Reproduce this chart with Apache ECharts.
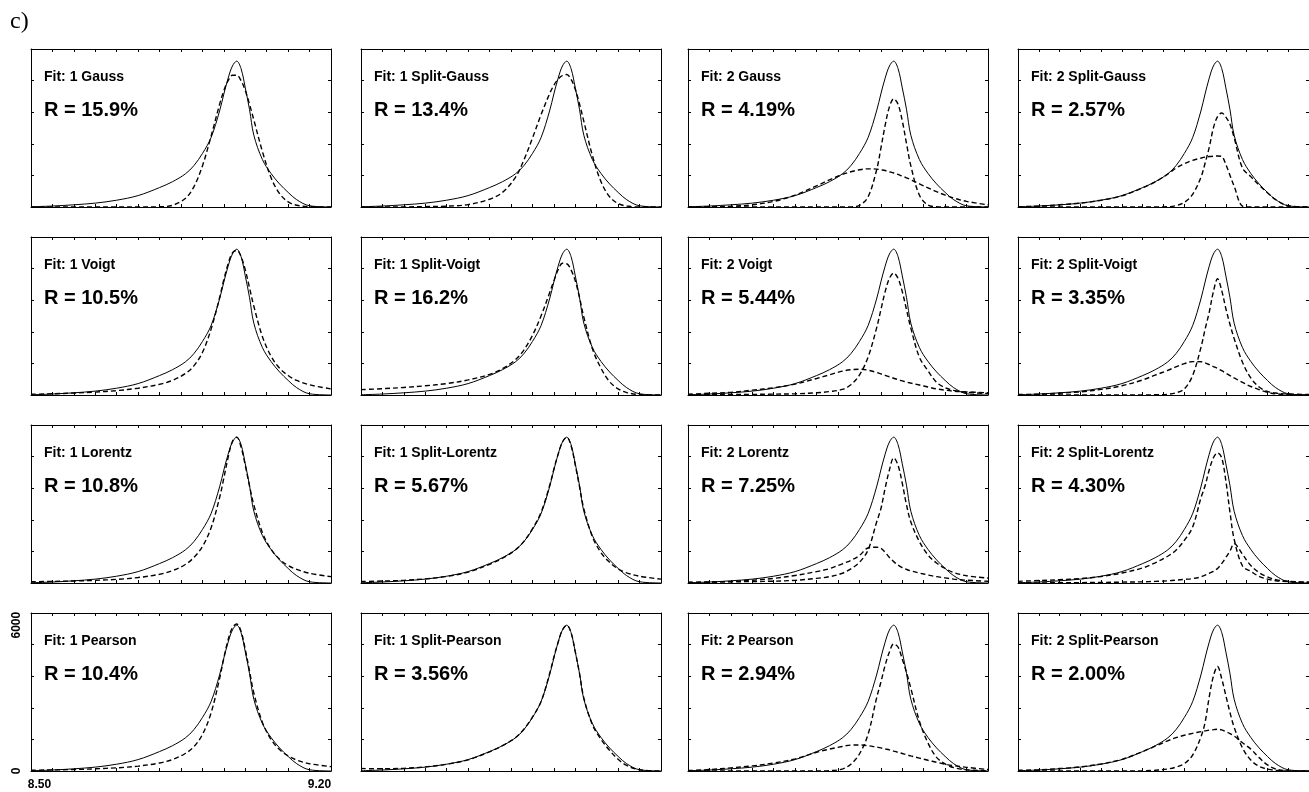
<!DOCTYPE html>
<html><head><meta charset="utf-8">
<script src="https://cdn.jsdelivr.net/npm/echarts@6/dist/echarts.min.js"></script>
<style>html,body{margin:0;padding:0;background:#fff}#c{width:1309px;height:792px}</style>
</head><body><div id="c"></div>
<script>
// ---------- data ----------
const xGrid = [8.50, 8.55, 8.60, 8.65, 8.70, 8.75, 8.80, 8.83, 8.86, 8.88, 8.90, 8.92, 8.94, 8.95, 8.96, 8.97, 8.98, 8.99, 9.00, 9.01, 9.02, 9.04, 9.06, 9.08, 9.10, 9.12, 9.15, 9.20];
const measured = [10, 40, 90, 160, 280, 470, 800, 1040, 1360, 1700, 2200, 2850, 3950, 4650, 5300, 5800, 6000, 5700, 4900, 4000, 2950, 1950, 1380, 950, 600, 300, 50, 0];

const gauss1 = [0, 0, 0, 0, 0, 0, 10, 70, 350, 830, 1690, 2900, 4220, 4790, 5200, 5420, 5420, 5200, 4790, 4220, 3580, 2280, 1210, 550, 210, 70, 10, 0];
const splitGauss1 = [0, 0, 5, 15, 35, 100, 320, 600, 1210, 1930, 2830, 3790, 4660, 5010, 5260, 5410, 5450, 5260, 4840, 4230, 3520, 2110, 1040, 420, 140, 40, 0, 0];
const gauss2a = [0, 0, 0, 0, 0, 0, 0, 0, 0, 5, 70, 410, 1520, 2410, 3360, 4120, 4450, 4230, 3540, 2600, 1690, 480, 80, 10, 0, 0, 0, 0];
const gauss2b = [0, 10, 30, 90, 230, 490, 870, 1120, 1340, 1450, 1530, 1570, 1560, 1530, 1500, 1450, 1400, 1340, 1270, 1200, 1120, 950, 790, 630, 490, 370, 230, 90];
const splitGauss2a = [0, 0, 0, 0, 0, 0, 0, 0, 10, 55, 190, 520, 1220, 1800, 2450, 3250, 3720, 3870, 3700, 3400, 2850, 1600, 1250, 900, 590, 300, 50, 0];
const splitGauss2b = [10, 40, 90, 160, 280, 460, 790, 1030, 1350, 1600, 1780, 1920, 2010, 2050, 2075, 2090, 2100, 2080, 1750, 1300, 850, 40, 0, 0, 0, 0, 0, 0];

const voigt1 = [30, 50, 80, 120, 180, 280, 440, 600, 880, 1200, 1750, 2700, 4000, 4750, 5400, 5850, 5950, 5700, 5150, 4400, 3650, 2400, 1600, 1100, 800, 600, 420, 250];
const splitVoigt1 = [220, 260, 310, 380, 470, 620, 850, 1080, 1450, 1850, 2450, 3250, 4200, 4700, 5150, 5420, 5400, 5150, 4700, 4000, 3200, 1900, 1100, 550, 250, 100, 20, 0];
const voigt2a = [12, 15, 20, 25, 35, 50, 90, 140, 230, 420, 820, 1550, 2750, 3500, 4250, 4800, 5020, 4800, 4250, 3500, 2750, 1550, 1000, 520, 300, 190, 110, 60];
const voigt2b = [30, 70, 110, 200, 300, 450, 680, 830, 980, 1040, 1060, 1020, 930, 870, 810, 750, 690, 630, 580, 530, 490, 410, 330, 250, 200, 160, 130, 90];
const splitVoigt2a = [0, 0, 0, 0, 0, 0, 0, 10, 30, 90, 250, 800, 1950, 2700, 3400, 4250, 4780, 4300, 3550, 2900, 2320, 1350, 700, 330, 150, 80, 40, 20];
const splitVoigt2b = [20, 35, 70, 130, 230, 380, 620, 820, 1010, 1160, 1290, 1375, 1370, 1320, 1250, 1170, 1090, 1000, 900, 800, 700, 520, 350, 220, 110, 50, 15, 0];

const lorentz1 = [50, 65, 85, 110, 150, 225, 360, 510, 760, 1050, 1500, 2260, 3510, 4320, 5170, 5820, 6000, 5600, 4840, 3980, 3210, 2070, 1390, 980, 720, 560, 400, 260];
const splitLorentz1 = [60, 80, 110, 170, 270, 450, 770, 1020, 1360, 1710, 2230, 2900, 4000, 4680, 5300, 5800, 6000, 5650, 4850, 3950, 3050, 1900, 1250, 850, 580, 420, 280, 160];
const lorentz2a = [30, 40, 50, 60, 75, 110, 190, 260, 400, 580, 850, 1350, 2500, 3050, 3900, 4650, 5150, 4850, 4100, 3200, 2510, 1700, 1150, 820, 600, 430, 300, 200];
const lorentz2b = [20, 35, 60, 115, 190, 310, 470, 590, 790, 930, 1130, 1440, 1470, 1430, 1260, 1050, 880, 740, 630, 560, 500, 410, 330, 260, 210, 160, 115, 70];
const splitLorentz2a = [68, 100, 135, 180, 270, 410, 620, 830, 1100, 1350, 1750, 2300, 3500, 4000, 4650, 5150, 5350, 5150, 4200, 2900, 1800, 700, 480, 270, 160, 95, 60, 30];
const splitLorentz2b = [0, 5, 10, 15, 25, 35, 50, 65, 90, 115, 150, 180, 250, 320, 400, 480, 600, 800, 1050, 1320, 1620, 1180, 720, 430, 250, 140, 70, 30];

const pearson1 = [30, 45, 60, 90, 130, 200, 330, 470, 720, 1000, 1500, 2380, 3800, 4650, 5400, 5900, 6050, 5750, 5000, 4100, 3200, 2000, 1300, 880, 620, 450, 300, 180];
const splitPearson1 = [100, 90, 110, 170, 280, 460, 790, 1040, 1370, 1720, 2220, 2850, 4000, 4680, 5300, 5800, 6000, 5700, 4900, 4000, 3000, 1900, 1300, 850, 480, 230, 50, 0];
const pearson2a = [0, 0, 0, 0, 0, 0, 0, 15, 80, 280, 700, 1500, 3000, 3650, 4350, 4900, 5230, 5100, 4600, 4050, 3400, 2050, 1150, 560, 290, 140, 50, 10];
const pearson2b = [20, 60, 130, 210, 330, 500, 770, 900, 1010, 1065, 1070, 1040, 980, 950, 910, 870, 820, 770, 720, 670, 620, 530, 440, 360, 280, 220, 150, 60];
const splitPearson2a = [0, 0, 0, 0, 0, 0, 10, 30, 80, 160, 300, 650, 1400, 2000, 3050, 3900, 4300, 3800, 3100, 2400, 1800, 950, 450, 190, 80, 30, 0, 0];
const splitPearson2b = [30, 50, 100, 170, 290, 480, 800, 1020, 1240, 1370, 1470, 1550, 1620, 1650, 1680, 1700, 1720, 1690, 1620, 1540, 1440, 1160, 900, 550, 250, 82, 10, 0];

const fitLabels = [
  'Fit: 1 Gauss', 'Fit: 1 Split-Gauss', 'Fit: 2 Gauss', 'Fit: 2 Split-Gauss',
  'Fit: 1 Voigt', 'Fit: 1 Split-Voigt', 'Fit: 2 Voigt', 'Fit: 2 Split-Voigt',
  'Fit: 1 Lorentz', 'Fit: 1 Split-Lorentz', 'Fit: 2 Lorentz', 'Fit: 2 Split-Lorentz',
  'Fit: 1 Pearson', 'Fit: 1 Split-Pearson', 'Fit: 2 Pearson', 'Fit: 2 Split-Pearson'
];
const rLabels = [
  'R = 15.9%', 'R = 13.4%', 'R = 4.19%', 'R = 2.57%',
  'R = 10.5%', 'R = 16.2%', 'R = 5.44%', 'R = 3.35%',
  'R = 10.8%', 'R = 5.67%', 'R = 7.25%', 'R = 4.30%',
  'R = 10.4%', 'R = 3.56%', 'R = 2.94%', 'R = 2.00%'
];
const panelComponents = [
  [gauss1], [splitGauss1], [gauss2a, gauss2b], [splitGauss2a, splitGauss2b],
  [voigt1], [splitVoigt1], [voigt2a, voigt2b], [splitVoigt2a, splitVoigt2b],
  [lorentz1], [splitLorentz1], [lorentz2a, lorentz2b], [splitLorentz2a, splitLorentz2b],
  [pearson1], [splitPearson1], [pearson2a, pearson2b], [splitPearson2a, splitPearson2b]
];
const xTickLabels = [8.50, 9.20];
const yTickLabels = [0, 6000];
const panelLabel = 'c)';

// ---------- layout ----------
const colLeft = [31, 361, 688, 1018];
const rowTop = [49, 237, 425, 613];
const W = 300, H = 158;
const SANS = '"Liberation Sans", Arial, Helvetica, sans-serif';
const labelPanel = 12;

const grids = [], xAxes = [], yAxes = [], series = [], graphics = [];
const frameLine = {show: true, onZero: false, lineStyle: {color: '#000', width: 1}};
const innerTick = {show: true, inside: true, length: 3, lineStyle: {color: '#000', width: 1}};

for (let i = 0; i < 16; i++) {
  const r = Math.floor(i / 4), c = i % 4;
  const left = colLeft[c], top = rowTop[r];
  grids.push({left: left, top: top, width: W, height: H});
  const bx = xAxes.length;
  xAxes.push({
    gridIndex: i, type: 'value', position: 'bottom', min: 8.5, max: 9.2, interval: 0.05,
    axisLine: frameLine, axisTick: innerTick, splitLine: {show: false},
    axisLabel: i === labelPanel ? {
      show: true, margin: 8, color: '#000', fontFamily: SANS, fontSize: 12, fontWeight: 'bold',
      showMinLabel: true, showMaxLabel: true,
      formatter: function (v) {
        if (Math.abs(v - xTickLabels[0]) < 1e-6) return '{a|' + xTickLabels[0].toFixed(2) + '}';
        if (Math.abs(v - xTickLabels[1]) < 1e-6) return '{b|' + xTickLabels[1].toFixed(2) + '}';
        return '';
      },
      rich: {
        a: {padding: [0, 0, 0, 17], fontSize: 12, fontWeight: 'bold', fontFamily: SANS, color: '#000'},
        b: {padding: [0, 23, 0, 0], fontSize: 12, fontWeight: 'bold', fontFamily: SANS, color: '#000'}
      }
    } : {show: false}
  });
  xAxes.push({
    gridIndex: i, type: 'value', position: 'top', min: 8.5, max: 9.2, interval: 0.05,
    axisLine: frameLine, axisTick: innerTick, splitLine: {show: false}, axisLabel: {show: false}
  });
  const ly = yAxes.length;
  yAxes.push({
    gridIndex: i, type: 'value', position: 'left', min: 0, max: 6500, interval: 1300,
    axisLine: frameLine, axisTick: innerTick, splitLine: {show: false}, axisLabel: {show: false}
  });
  yAxes.push({
    gridIndex: i, type: 'value', position: 'right', min: 0, max: 6500, interval: 1300,
    axisLine: frameLine, axisTick: innerTick, splitLine: {show: false}, axisLabel: {show: false}
  });
  if (i === labelPanel) {
    yAxes.push({
      gridIndex: i, type: 'value', position: 'left', min: 0, max: 6500, interval: 6000,
      axisLine: {show: false}, axisTick: {show: false}, splitLine: {show: false},
      axisLabel: {
        show: true, rotate: 90, margin: 8, color: '#000', fontFamily: SANS, fontSize: 12, fontWeight: 'bold',
        formatter: function (v) { return yTickLabels.indexOf(v) >= 0 ? String(v) : ''; }
      }
    });
  }
  series.push({
    type: 'line', xAxisIndex: bx, yAxisIndex: ly, smooth: 0.35, showSymbol: false, silent: true,
    data: xGrid.map((x, k) => [x, measured[k]]),
    lineStyle: {color: '#000', width: 1}, z: 3
  });
  panelComponents[i].forEach(function (comp) {
    series.push({
      type: 'line', xAxisIndex: bx, yAxisIndex: ly, smooth: 0.35, showSymbol: false, silent: true,
      data: xGrid.map((x, k) => [x, comp[k]]),
      lineStyle: {color: '#000', width: 1.4, type: [5, 3]}, z: 2
    });
  });
  graphics.push({
    type: 'text', x: left + 13, y: top + 28,
    style: {text: fitLabels[i], fill: '#000', font: 'bold 14px ' + SANS, align: 'left', verticalAlign: 'middle'}
  });
  graphics.push({
    type: 'text', x: left + 13, y: top + 61,
    style: {text: rLabels[i], fill: '#000', font: 'bold 20px ' + SANS, align: 'left', verticalAlign: 'middle'}
  });
}
graphics.push({
  type: 'text', x: 10, y: 22,
  style: {text: panelLabel, fill: '#000', font: '24px "Liberation Serif", "Times New Roman", serif', align: 'left', verticalAlign: 'middle'}
});

const chart = echarts.init(document.getElementById('c'), null, {renderer: 'canvas'});
chart.setOption({
  animation: false,
  backgroundColor: '#fff',
  grid: grids, xAxis: xAxes, yAxis: yAxes, series: series, graphic: graphics
});
</script>
</body></html>
